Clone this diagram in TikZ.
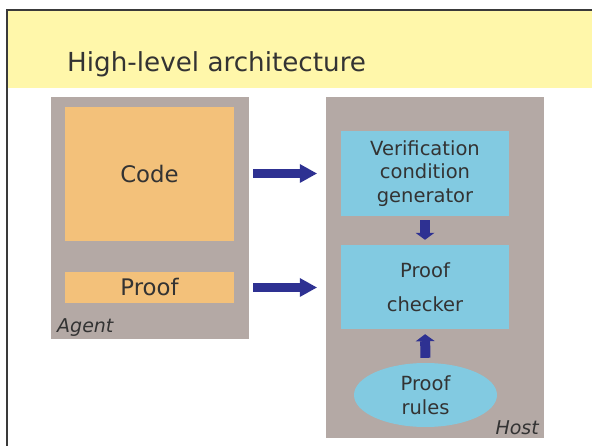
\documentclass[tikz,border=0pt]{standalone}
\usepackage{fontspec}
\setmainfont{DejaVu Sans}
\usetikzlibrary{arrows.meta,shapes.geometric}
\definecolor{bandyellow}{RGB}{255,247,170}
\definecolor{framegray}{RGB}{58,58,58}
\definecolor{panelgray}{RGB}{180,169,165}
\definecolor{codeorange}{RGB}{243,193,122}
\definecolor{hostblue}{RGB}{130,202,225}
\definecolor{arrowblue}{RGB}{46,49,146}
\definecolor{inkgray}{RGB}{51,51,51}
\tikzset{
  panel/.style={fill=panelgray, draw=none, inner sep=0pt},
  agentpart/.style={fill=codeorange, draw=none, inner sep=0pt, text=inkgray,
    font=\fontsize{22.8}{27}\selectfont},
  hostpart/.style={fill=hostblue, draw=none, inner sep=0pt, text=inkgray,
    align=center, font=\fontsize{19.5}{23.5}\selectfont},
  panellabel/.style={text=inkgray, inner sep=0pt, font=\fontsize{19}{22}\selectfont\itshape},
  bigarrow/.style={draw=arrowblue, line width=9pt,
    -{Triangle[length=17pt,width=19pt,line width=0pt]}},
  smallarrow/.style={draw=arrowblue, line width=10pt,
    -{Triangle[length=7pt,width=19pt,line width=0pt]}}
}
\begin{document}
\begin{tikzpicture}[x=1pt,y=-1pt]
  \useasboundingbox (0,0) rectangle (592,446);
  \fill[white] (0,0) rectangle (592,446);

  % slide frame and title band
  \fill[bandyellow] (8,11) rectangle (600,88);
  \draw[framegray, line width=2.8pt] (7,10) rectangle (620,470);
  \node[anchor=base west, text=inkgray, inner sep=0pt,
        font=\fontsize{26.2}{31}\selectfont] (title) at (67,72) {High-level architecture};

  % agent side
  \node[panel, minimum width=198pt, minimum height=242pt] (agent) at (150,218) {};
  \node[agentpart, minimum width=169pt, minimum height=134pt] (code) at (149.5,174) {Code};
  \node[agentpart, minimum width=169pt, minimum height=31pt] (proof) at (149.5,287.5) {Proof};
  \node[panellabel, anchor=base west] (agentlbl) at (57,333) {Agent};

  % host side
  \node[panel, minimum width=218pt, minimum height=341pt] (host) at (435,267.5) {};
  \node[hostpart, minimum width=168pt, minimum height=85pt] (vcgen) at (425,173.5)
    {Verification\\condition\\generator};
  \node[hostpart, minimum width=168pt, minimum height=84pt] (checker) at (425,287)
    {Proof\\[10.5pt]checker};
  \node[hostpart, ellipse, minimum width=143pt, minimum height=64pt] (rules) at (425.5,395)
    {Proof\\rules};
  \node[panellabel, anchor=base east] (hostlbl) at (539,434) {Host};

  % connectors
  \draw[bigarrow, shorten <=19pt, shorten >=24pt] (code.east |- vcgen.west) -- (vcgen.west);
  \draw[bigarrow, shorten <=19pt, shorten >=24pt] (proof.east) -- (proof.east -| checker.west);
  \draw[smallarrow, shorten <=4pt, shorten >=5pt] (vcgen.south) -- (checker.north);
  \draw[smallarrow, shorten <=5pt, shorten >=5pt] (rules.north) -- (checker.south);
\end{tikzpicture}
\end{document}
